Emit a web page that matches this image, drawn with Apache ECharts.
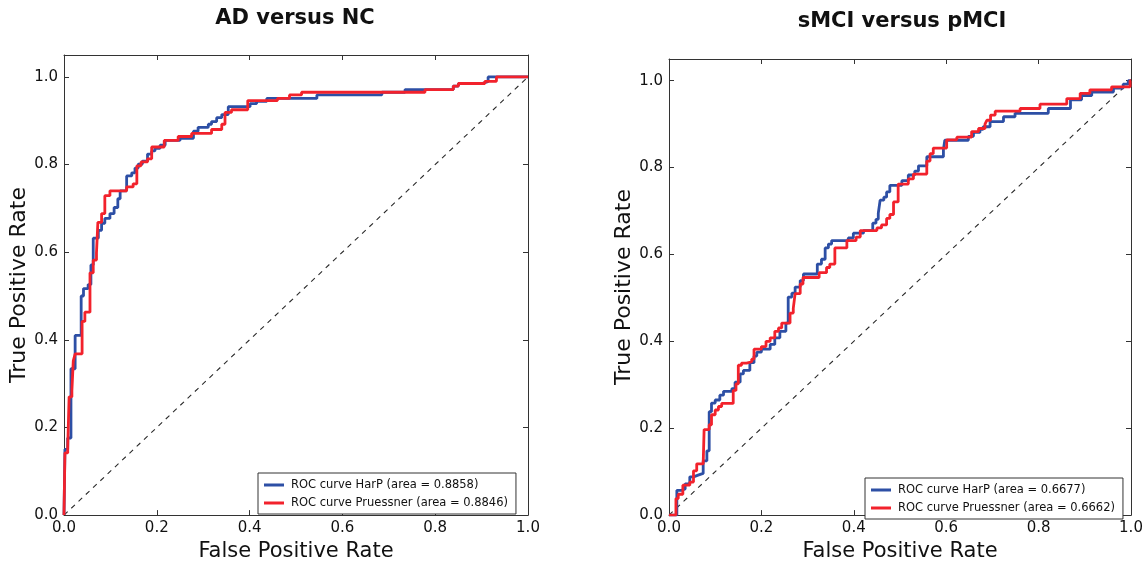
<!DOCTYPE html>
<html>
<head>
<meta charset="utf-8">
<script src="https://cdn.jsdelivr.net/npm/echarts@6/dist/echarts.min.js"></script>
<style>
html,body{margin:0;padding:0;background:#fff;}
#chart{width:1147px;height:567px;}
</style>
</head>
<body>
<div id="chart"></div>
<script>
// ---- Data (fpr, tpr) ----
const titles = ['AD versus NC', 'sMCI versus pMCI'];
const xTickValues = [0, 0.2, 0.4, 0.6, 0.8, 1.0];
const yTickValues = [0, 0.2, 0.4, 0.6, 0.8, 1.0];
const legendNamesAD = ['ROC curve HarP (area = 0.8858)', 'ROC curve Pruessner (area = 0.8846)'];
const legendNamesMCI = ['ROC curve HarP (area = 0.6677)', 'ROC curve Pruessner (area = 0.6662)'];

const adHarp = [
  [0,0],[0.002,0.15],[0.008,0.176],[0.015,0.334],[0.024,0.41],[0.037,0.5],[0.042,0.517],
  [0.052,0.526],[0.058,0.571],[0.063,0.632],[0.074,0.65],[0.081,0.666],[0.088,0.677],
  [0.099,0.688],[0.108,0.702],[0.116,0.722],[0.121,0.74],[0.135,0.774],[0.146,0.781],
  [0.153,0.792],[0.16,0.801],[0.169,0.808],[0.18,0.824],[0.189,0.831],[0.196,0.837],
  [0.207,0.844],[0.218,0.855],[0.25,0.86],[0.279,0.876],[0.289,0.885],[0.311,0.892],
  [0.318,0.898],[0.329,0.907],[0.34,0.914],[0.354,0.932],[0.401,0.939],[0.415,0.944],
  [0.437,0.951],[0.545,0.959],[0.685,0.965],[0.735,0.971],[0.839,0.979],[0.85,0.985],
  [0.9,0.989],[0.914,1.0],[1.0,1.0]
];
const adPruessner = [
  [0,0],[0.002,0.142],[0.008,0.153],[0.011,0.27],[0.017,0.284],[0.02,0.352],[0.024,0.368],
  [0.039,0.442],[0.045,0.463],[0.056,0.553],[0.063,0.582],[0.07,0.598],[0.073,0.668],
  [0.081,0.688],[0.088,0.729],[0.099,0.74],[0.135,0.749],[0.149,0.756],[0.157,0.797],
  [0.166,0.806],[0.18,0.813],[0.189,0.84],[0.216,0.855],[0.246,0.864],[0.275,0.871],
  [0.318,0.88],[0.34,0.892],[0.347,0.919],[0.361,0.925],[0.396,0.946],[0.46,0.951],
  [0.486,0.959],[0.512,0.965],[0.778,0.971],[0.839,0.979],[0.85,0.985],[0.907,0.99],
  [0.932,1.0],[1.0,1.0]
];
const mciHarp = [
  [0,0],[0.017,0.057],[0.027,0.06],[0.035,0.072],[0.045,0.088],[0.053,0.092],[0.063,0.096],
  [0.074,0.125],[0.082,0.148],[0.087,0.238],[0.092,0.258],[0.1,0.265],[0.11,0.276],
  [0.118,0.285],[0.136,0.291],[0.143,0.306],[0.154,0.325],[0.161,0.333],[0.175,0.351],
  [0.184,0.366],[0.19,0.375],[0.2,0.382],[0.219,0.393],[0.229,0.408],[0.24,0.423],
  [0.253,0.442],[0.258,0.502],[0.266,0.511],[0.273,0.525],[0.284,0.54],[0.291,0.555],
  [0.321,0.578],[0.33,0.589],[0.338,0.615],[0.345,0.624],[0.352,0.632],[0.388,0.638],
  [0.399,0.649],[0.421,0.655],[0.441,0.672],[0.448,0.681],[0.453,0.695],[0.457,0.725],
  [0.465,0.732],[0.471,0.744],[0.478,0.759],[0.504,0.77],[0.518,0.783],[0.532,0.792],
  [0.54,0.804],[0.558,0.825],[0.594,0.842],[0.597,0.863],[0.648,0.872],[0.659,0.881],
  [0.673,0.888],[0.68,0.894],[0.695,0.906],[0.724,0.917],[0.749,0.925],[0.821,0.936],
  [0.869,0.956],[0.893,0.966],[0.915,0.974],[0.962,0.983],[0.983,0.992],[0.994,1.0],[1.0,1.0]
];
const mciPruessner = [
  [0,0],[0.015,0.038],[0.02,0.048],[0.03,0.069],[0.045,0.076],[0.053,0.102],[0.06,0.118],
  [0.074,0.121],[0.076,0.197],[0.087,0.208],[0.092,0.231],[0.1,0.242],[0.107,0.25],
  [0.114,0.257],[0.139,0.287],[0.145,0.302],[0.15,0.345],[0.157,0.35],[0.168,0.353],
  [0.179,0.359],[0.184,0.382],[0.2,0.388],[0.21,0.4],[0.219,0.408],[0.229,0.423],
  [0.237,0.431],[0.244,0.442],[0.262,0.465],[0.269,0.476],[0.273,0.51],[0.284,0.532],
  [0.29,0.547],[0.325,0.558],[0.341,0.57],[0.348,0.578],[0.359,0.615],[0.385,0.632],
  [0.405,0.64],[0.414,0.655],[0.45,0.661],[0.46,0.668],[0.471,0.683],[0.478,0.692],
  [0.486,0.721],[0.496,0.762],[0.518,0.774],[0.529,0.785],[0.558,0.815],[0.565,0.832],
  [0.572,0.845],[0.601,0.864],[0.623,0.87],[0.655,0.883],[0.67,0.89],[0.684,0.9],
  [0.688,0.909],[0.696,0.921],[0.706,0.93],[0.76,0.936],[0.803,0.946],[0.861,0.959],
  [0.89,0.971],[0.911,0.979],[0.958,0.986],[0.998,1.0],[1.0,1.0]
];
const chanceLine = [[0,0],[1,1]];

// ---- Styling ----
const FONT = 'DejaVu Sans';
const BLUE = '#2d4fa5';
const RED = '#f2222c';
const AXIS_COLOR = '#333';

function fmt(v){
  for (const t of yTickValues) if (Math.abs(v - t) < 1e-6) return v.toFixed(1);
  return '';
}

function makeAxes(gi, isX, nameGap){
  const common = {
    type: 'value', gridIndex: gi, min: 0, max: isX ? 1 : 1.05, interval: 0.2,
    splitLine: {show: false},
    axisLine: {show: true, onZero: false, lineStyle: {color: AXIS_COLOR, width: 1}},
    axisTick: {show: true, inside: true, length: 5, lineStyle: {color: AXIS_COLOR, width: 1}}
  };
  const main = Object.assign({}, common, {
    position: isX ? 'bottom' : 'left',
    name: isX ? 'False Positive Rate' : 'True Positive Rate',
    nameLocation: 'middle',
    nameGap: nameGap,
    nameTextStyle: {fontFamily: FONT, fontSize: isX ? 21 : 22, color: '#111'},
    axisLabel: {show: true, fontFamily: FONT, fontSize: 15, color: '#111',
      margin: 6, formatter: fmt, showMaxLabel: isX ? true : false}
  });
  const mirror = Object.assign({}, common, {
    position: isX ? 'top' : 'right',
    axisLabel: {show: false}
  });
  return [main, mirror];
}

const grids = [
  {left: 64, top: 55, width: 464, height: 463},
  {left: 669, top: 59, width: 462, height: 462}
];

const xAxes = [...makeAxes(0, true, 22), ...makeAxes(1, true, 22)];
const yAxes = [...makeAxes(0, false, 29), ...makeAxes(1, false, 32)];

function rocSeries(name, data, color, xi, yi){
  return {
    name: name, type: 'line', data: data, step: 'end',
    xAxisIndex: xi, yAxisIndex: yi, symbol: 'none', showSymbol: false,
    lineStyle: {color: color, width: 2.8}, itemStyle: {color: color},
    animation: false, z: 3
  };
}
function chanceSeries(xi, yi){
  return {
    type: 'line', data: chanceLine, xAxisIndex: xi, yAxisIndex: yi,
    symbol: 'none', silent: true, animation: false, z: 2,
    lineStyle: {color: '#2a2a2a', width: 1.1, type: [5, 5]}
  };
}

const series = [
  chanceSeries(0, 0),
  rocSeries(legendNamesAD[0], adHarp, BLUE, 0, 0),
  rocSeries(legendNamesAD[1], adPruessner, RED, 0, 0),
  chanceSeries(2, 2),
  rocSeries(legendNamesMCI[0], mciHarp, BLUE, 2, 2),
  rocSeries(legendNamesMCI[1], mciPruessner, RED, 2, 2)
];

function legendFor(names, pos){
  return Object.assign({
    data: names, orient: 'vertical', icon: 'rect', itemWidth: 20, itemHeight: 3,
    itemGap: 6, padding: [6, 8, 5, 6], borderColor: '#333', borderWidth: 1,
    backgroundColor: '#fff', selectedMode: false,
    textStyle: {fontFamily: FONT, fontSize: 11.5, color: '#111', padding: [0, 0, 0, 2]}
  }, pos);
}

const option = {
  backgroundColor: '#fff',
  animation: false,
  title: [
    {text: titles[0], left: 290, top: 3, textAlign: 'center',
     textStyle: {fontFamily: FONT, fontSize: 21, fontWeight: 'bold', color: '#111'}},
    {text: titles[1], left: 897, top: 6, textAlign: 'center',
     textStyle: {fontFamily: FONT, fontSize: 21, fontWeight: 'bold', color: '#111'}}
  ],
  grid: grids,
  xAxis: xAxes,
  yAxis: yAxes,
  legend: [
    legendFor(legendNamesAD, {left: 258, top: 473}),
    legendFor(legendNamesMCI, {left: 865, top: 478})
  ],
  series: series
};

const chart = echarts.init(document.getElementById('chart'), null, {renderer: 'canvas'});
chart.setOption(option);
</script>
</body>
</html>
